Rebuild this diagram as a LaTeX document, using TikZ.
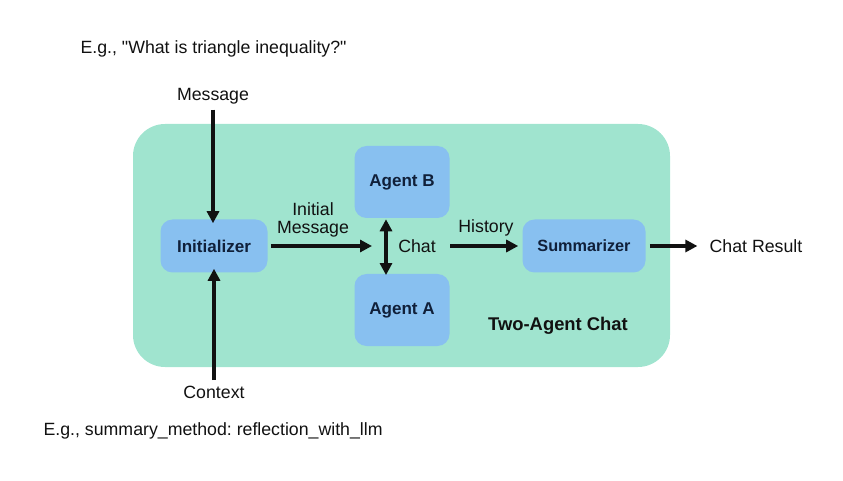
\documentclass[tikz,border=0pt]{standalone}
\usepackage{fontspec}
\setmainfont{Liberation Sans}[Ligatures=TeXOff]
\usetikzlibrary{arrows.meta}
\definecolor{mint}{HTML}{A0E4CF}
\definecolor{agentblue}{HTML}{88C0F0}
\definecolor{ink}{HTML}{111111}
\definecolor{navy}{HTML}{10203A}
\frenchspacing
\begin{document}
\begin{tikzpicture}[x=0.75pt,y=-0.75pt,
  agentbox/.style={fill=agentblue,rounded corners=9pt,inner sep=0pt,font=\fontsize{12.8}{14}\selectfont\bfseries,text=navy},
  label/.style={font=\fontsize{13.3}{15}\selectfont,text=ink,inner sep=1pt},
  flow/.style={line width=2.4pt,draw=ink,-{Triangle[length=9pt,width=9pt]}},
  biflow/.style={line width=2.4pt,draw=ink,{Triangle[length=9pt,width=9pt]}-{Triangle[length=9pt,width=9pt]}}]
\useasboundingbox (0,0) rectangle (843,481);
\fill[mint,rounded corners=24pt] (133,124) rectangle (670,367);
\node[agentbox,minimum width=107*0.75pt,minimum height=53*0.75pt] (init) at (214,246) {Initializer};
\node[agentbox,minimum width=95*0.75pt,minimum height=72*0.75pt] (agb) at (402,182) {Agent B};
\node[agentbox,minimum width=95*0.75pt,minimum height=72*0.75pt] (aga) at (402,310) {Agent A};
\node[agentbox,minimum width=123*0.75pt,minimum height=53*0.75pt,font=\fontsize{12.2}{14}\selectfont\bfseries] (summ) at (584,246) {Summarizer};
\node[label] (msg) at (213,96) {Message};
\node[label] (ctx) at (214,392) {Context};
\node[label,anchor=west] (eg1) at (79,49) {E.g., "What is triangle inequality?"};
\node[label,anchor=west] (eg2) at (42,431) {E.g., summary\_method: reflection\_with\_llm};
\node[label] (res) at (756,246) {Chat Result};
\node[font=\fontsize{13.8}{15}\selectfont\bfseries,text=ink] (title) at (558,326) {Two-Agent Chat};
\coordinate (chatin) at (372,246);
\node[label,align=center] (initmsg) at (313,220) {Initial\\[-2pt]Message};
\node[label] (chat) at (417,246) {Chat};
\node[label] (hist) at (486,228) {History};
\draw[flow] (msg.south) ++(0,4) -- ([yshift=-3]msg.south |- init.north);
\draw[flow] (ctx.north) ++(0,-4) -- ([yshift=3]ctx.north |- init.south);
\draw[flow] (init.east) ++(3,0) -- (chatin);
\draw[biflow] (agb.south -| 386,0) ++(0,1) -- ([yshift=-1]aga.north -| 386,0);
\draw[flow] (450,246) -- ([xshift=-3]summ.west);
\draw[flow] (summ.east) ++(4,0) -- ([xshift=-8]res.west);
\end{tikzpicture}
\end{document}
